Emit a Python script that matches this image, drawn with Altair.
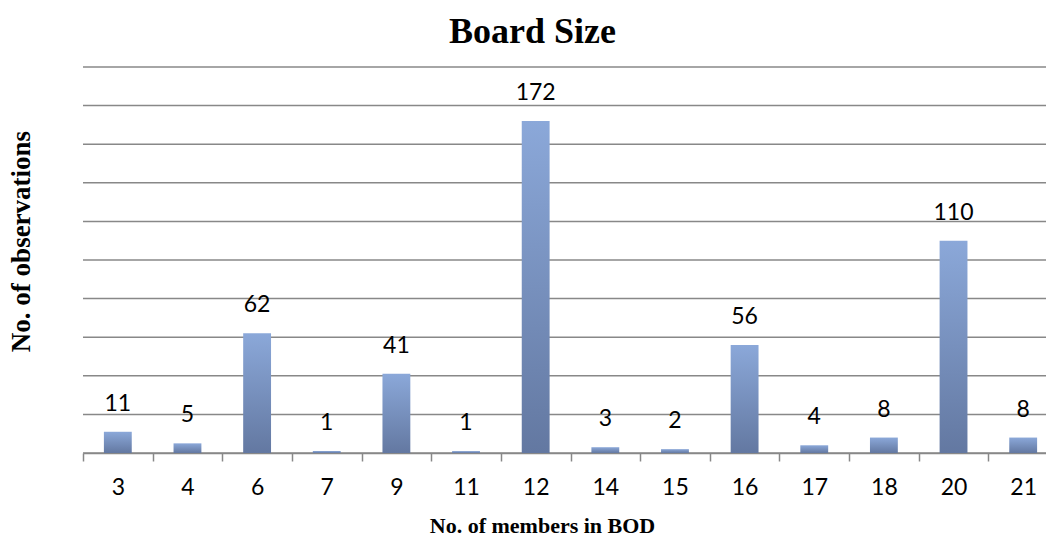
import altair as alt
import pandas as pd

# Board size distribution: number of board members vs number of observations
members = ["3", "4", "6", "7", "9", "11", "12", "14", "15", "16", "17", "18", "20", "21"]
counts = [11, 5, 62, 1, 41, 1, 172, 3, 2, 56, 4, 8, 110, 8]
y_ticks = [0, 20, 40, 60, 80, 100, 120, 140, 160, 180, 200]

df = pd.DataFrame({"members": members, "count": counts})
grid_df = pd.DataFrame({"count": y_ticks})

GRID = "#888888"
SERIF = "Liberation Serif"
SANS = "Lato"

x_enc = alt.X(
    "members:N",
    sort=members,
    scale=alt.Scale(range=[0, 975], paddingInner=0, paddingOuter=0),
    axis=alt.Axis(
        title="No. of members in BOD",
        titleFont=SERIF,
        titleFontSize=22,
        titleFontWeight="bold",
        titleColor="black",
        titlePadding=16,
        titleX=459,
        labelFont=SANS,
        labelFontSize=23,
        labelColor="black",
        labelAngle=0,
        labelPadding=15,
        tickBand="extent",
        tickSize=8,
        tickColor=GRID,
        tickWidth=1.5,
        domainColor=GRID,
        domainWidth=1.5,
    ),
)

y_scale = alt.Scale(domain=[0, 200], nice=False)

y_enc = alt.Y(
    "count:Q",
    scale=y_scale,
    axis=alt.Axis(
        labels=False,
        ticks=False,
        domain=False,
        grid=False,
        title="No. of observations",
        titleFont=SERIF,
        titleFontSize=27,
        titleFontWeight="bold",
        titleColor="black",
        titlePadding=48,
        titleY=174,
    ),
)

# horizontal gridlines every 20 observations
grid = alt.Chart(grid_df).mark_rule(color=GRID, strokeWidth=1.5).encode(y=y_enc)

bar_fill = alt.Gradient(
    gradient="linear",
    x1=0, x2=0, y1=0, y2=1,
    stops=[
        alt.GradientStop(color="#8BA8D9", offset=0),
        alt.GradientStop(color="#6378A1", offset=1),
    ],
)

bars = alt.Chart(df).mark_bar(
    width=alt.RelativeBandSize(0.4), color=bar_fill
).encode(x=x_enc, y=y_enc)

labels = alt.Chart(df).mark_text(
    baseline="bottom", dy=-16, font=SANS, fontSize=23, color="black"
).encode(x=x_enc, y=y_enc, text="count:Q")

chart = alt.layer(grid, bars, labels).properties(
    width=963,
    height=386,
    title=alt.TitleParams(
        "Board Size",
        font=SERIF,
        fontSize=36,
        fontWeight="bold",
        color="black",
        anchor="middle",
        dx=-32,
        offset=15,
    ),
    autosize="none",
    padding={"left": 83, "top": 67, "right": 0, "bottom": 84},
).configure_view(stroke=None)

chart.save("out.html", embed_options={"renderer": "svg", "actions": False})
